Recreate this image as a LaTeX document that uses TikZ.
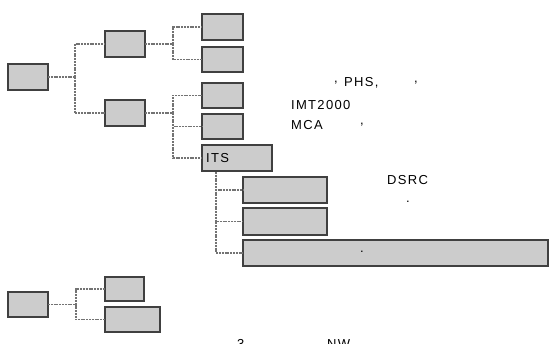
\documentclass[tikz,border=0pt]{standalone}
\usepackage{fontspec}
\setmainfont{Liberation Sans}[LetterSpace=10]
\tikzset{
  box/.style={draw=black!75, fill=gray!40, line width=1.5pt, inner sep=0pt, outer sep=0pt, rectangle},
  conn/.style={draw=black!55, line width=1.6pt, dash pattern=on 2pt off 0.8pt},
  lbl/.style={inner sep=0pt, anchor=west, font=\fontsize{13pt}{15pt}\selectfont}
}
\begin{document}
\begin{tikzpicture}[x=1pt,y=-1pt]
\useasboundingbox (0,0) rectangle (553,344);
% upper tree
\node[box, minimum width=40pt, minimum height=26pt] (root) at (28,77) {};
\node[box, minimum width=40pt, minimum height=26pt] (mA) at (125,44) {};
\node[box, minimum width=40pt, minimum height=26pt] (mB) at (125,113) {};
\node[box, minimum width=41pt, minimum height=26pt] (l1) at (222.5,27) {};
\node[box, minimum width=41pt, minimum height=25pt] (l2) at (222.5,59.5) {};
\node[box, minimum width=41pt, minimum height=25pt] (l3) at (222.5,95.5) {};
\node[box, minimum width=41pt, minimum height=25pt] (l4) at (222.5,126.5) {};
\node[box, minimum width=70pt, minimum height=26pt] (its) at (237,158) {};
\node[lbl] (itst) at (206,158) {ITS};
\node[box, minimum width=84pt, minimum height=26pt] (s1) at (285,190) {};
\node[box, minimum width=84pt, minimum height=27pt] (s2) at (285,221.5) {};
\node[box, minimum width=305pt, minimum height=26pt] (s3) at (395.5,253) {};
% lower tree
\node[box, minimum width=40pt, minimum height=25pt] (r2) at (28,304.5) {};
\node[box, minimum width=39pt, minimum height=24pt] (ba) at (124.5,289) {};
\node[box, minimum width=55pt, minimum height=25pt] (bb) at (132.5,319.5) {};
% connectors
\coordinate (jr) at (75,77);
\draw[conn] (root.east) -- (jr);
\draw[conn] (jr) |- (mA.west);
\draw[conn] (jr) |- (mB.west);
\coordinate (ja) at (173,44);
\draw[conn] (mA.east) -- (ja);
\draw[conn] (ja) |- (l1.west);
\draw[conn] (ja) |- (l2.west);
\coordinate (jb) at (173,113);
\draw[conn] (mB.east) -- (jb);
\draw[conn] (jb) |- (l3.west);
\draw[conn] (jb) |- (l4.west);
\draw[conn] (jb) |- (its.west);
\coordinate (ji) at (216,172);
\draw[conn] (ji) |- (s1.west);
\draw[conn] (ji) |- (s2.west);
\draw[conn] (ji) |- (s3.west);
\coordinate (j2) at (76,304.5);
\draw[conn] (r2.east) -- (j2);
\draw[conn] (j2) |- (ba.west);
\draw[conn] (j2) |- (bb.west);
% texts
\node[lbl] (t1) at (334,83) {,};
\node[lbl] (t2) at (344,83) {PHS,};
\node[lbl] (t3) at (414,83) {,};
\node[lbl] (t4) at (291,105) {IMT2000};
\node[lbl] (t5) at (291,125) {MCA};
\node[lbl] (t6) at (360,125) {,};
\node[lbl] (t7) at (387,180) {DSRC};
\node[lbl] (t8) at (406,202) {.};
\node[lbl] (t9) at (360,252) {.};
\node[inner sep=0pt, anchor=base west, font=\fontsize{13pt}{15pt}\selectfont] (c1) at (237,348) {3};
\node[inner sep=0pt, anchor=base west, font=\fontsize{13pt}{15pt}\selectfont] (c2) at (327,348) {NW};
\end{tikzpicture}
\end{document}
